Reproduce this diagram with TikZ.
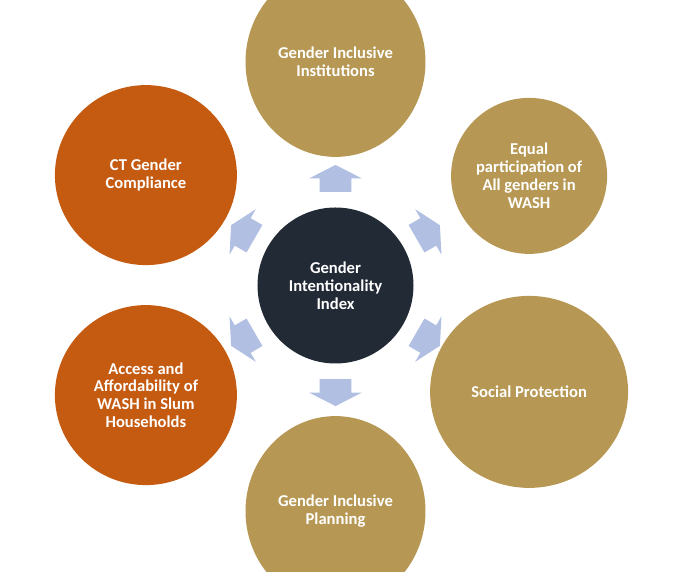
\documentclass[tikz,border=0pt]{standalone}
\usepackage{fontspec}
\setmainfont{Carlito}
\usetikzlibrary{shapes.geometric, shapes.arrows}
\definecolor{hubnavy}{HTML}{222A35}
\definecolor{leafgold}{HTML}{B69854}
\definecolor{leafrust}{HTML}{C55A11}
\definecolor{pointerblue}{HTML}{B1BFE2}
\tikzset{
	disc/.style={ellipse, inner sep=0pt, text=white, align=center, font=\fontsize{11.8}{12.7}\selectfont\bfseries},
	hub/.style={disc, fill=hubnavy, minimum width=3.9cm, minimum height=3.9cm},
	goldleaf/.style={disc, fill=leafgold},
	rustleaf/.style={disc, fill=leafrust, minimum width=4.55cm, minimum height=4.5cm},
	pointer/.style={single arrow, fill=pointerblue, inner sep=0pt, inner ysep=0.39cm, minimum height=0.675cm, single arrow head extend=0.26cm, single arrow tip angle=126}
}
\begin{document}
\begin{tikzpicture}
	\clip (-8.3875,-7.1625) rectangle (8.6125,7.1375);
	\node (g00) at (0,0)[hub]{Gender\\Intentionality\\Index};
	\node (g01) at (0,5.59)[goldleaf, minimum width=4.5cm, minimum height=4.75cm]{Gender Inclusive\\Institutions};
	\node (g02) at (4.84,2.74)[goldleaf, minimum width=3.9cm, minimum height=3.9cm]{Equal\\participation of\\All genders in\\WASH};
	\node (g03) at (4.84,-2.66)[goldleaf, minimum width=4.95cm, minimum height=4.8cm]{Social Protection};
	\node (g04) at (0,-5.64)[goldleaf, minimum width=4.5cm, minimum height=4.75cm]{Gender Inclusive\\Planning};
	\node (g05) at (-4.74,-2.74)[rustleaf]{Access and\\Affordability of\\WASH in Slum\\Households};
	\node (g06) at (-4.74,2.76)[rustleaf]{CT Gender\\Compliance};
	\node (a01) at (90:2.575)[pointer, rotate=90]{};
	\node (a02) at (30:2.575)[pointer, rotate=30]{};
	\node (a03) at (-30:2.575)[pointer, rotate=-30]{};
	\node (a04) at (-90:2.575)[pointer, rotate=-90]{};
	\node (a05) at (-150:2.575)[pointer, rotate=-150]{};
	\node (a06) at (150:2.575)[pointer, rotate=150]{};
\end{tikzpicture}
\end{document}
